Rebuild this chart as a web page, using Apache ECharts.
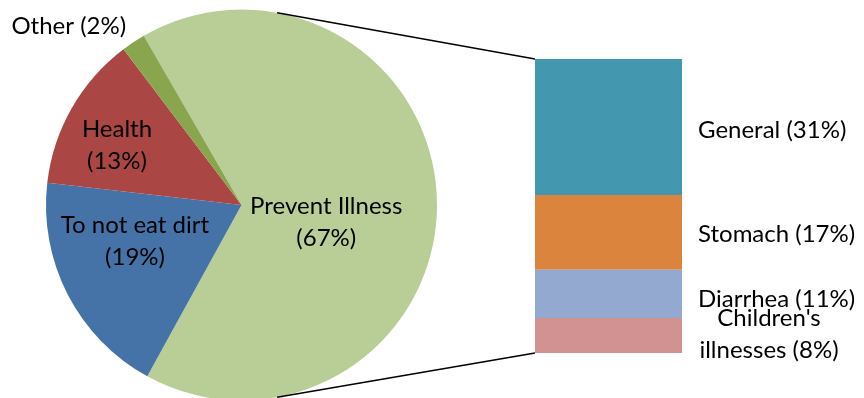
<!DOCTYPE html>
<html>
<head>
<meta charset="utf-8">
<script src="https://cdn.jsdelivr.net/npm/echarts@6/dist/echarts.min.js"></script>
<style>
  html, body { margin: 0; padding: 0; background: #ffffff; }
  #chart { width: 864px; height: 398px; }
</style>
</head>
<body>
<div id="chart"></div>
<script>
// Reasons given (pie) with the "Prevent Illness" share broken down in a stacked bar
const reasonNames = ['Prevent Illness', 'To not eat dirt', 'Health', 'Other'];
const reasonValues = [67, 19, 13, 2];
const illnessNames = ['General', 'Stomach', 'Diarrhea', "Children's illnesses"];
const illnessValues = [31, 17, 11, 8];

// styling / layout
const reasonColors = ['#B9CE96', '#4572A7', '#AA4643', '#89A54E'];
const illnessColors = ['#4398AF', '#DB843D', '#93A9CF', '#D19291'];
const FONT = 'Lato, "Open Sans", sans-serif';
const FONT_SIZE = 24;
const pieCenter = [241.5, 205];
const pieRadius = 195.5;
const barBox = { left: 535, top: 59, width: 147, height: 294 };
const pieLabelShift = [[-16, 18], [-17, -10], [-37, -10], [-117, -95]];
const barLabelShift = [3, 2, 6, -1];
const connectorAngle = 79.5; // degrees above/below horizontal where the connectors leave the pie

const illnessTotal = illnessValues.reduce((a, b) => a + b, 0);

const chart = echarts.init(document.getElementById('chart'), null, { renderer: 'canvas' });

const pieSeries = {
  type: 'pie',
  center: pieCenter,
  radius: pieRadius,
  startAngle: 120,
  clockwise: true,
  silent: true,
  animation: false,
  data: reasonNames.map((name, i) => ({
    name,
    value: reasonValues[i],
    itemStyle: { color: reasonColors[i] }
  })),
  label: {
    show: true,
    position: 'inside',
    color: '#000',
    fontFamily: FONT,
    fontSize: FONT_SIZE,
    lineHeight: 32,
    align: 'center',
    formatter: p => p.name === 'Other' ? `${p.name} (${p.value}%)` : `${p.name}\n(${p.value}%)`
  },
  labelLine: { show: false },
  labelLayout: params => ({ dx: pieLabelShift[params.dataIndex][0], dy: pieLabelShift[params.dataIndex][1] })
};

const barSeries = illnessNames.map((name, i) => {
  const multi = name.indexOf(' ') > 0 && name.length > 12;
  return {
    type: 'bar',
    name,
    stack: 'illness',
    xAxisIndex: 0,
    yAxisIndex: 0,
    barWidth: '100%',
    silent: true,
    animation: false,
    data: [illnessValues[i]],
    itemStyle: { color: illnessColors[i] },
    label: {
      show: true,
      position: 'right',
      distance: 16,
      offset: [0, barLabelShift[i]],
      color: '#000',
      fontFamily: FONT,
      fontSize: FONT_SIZE,
      lineHeight: 32,
      formatter: p => {
        const text = `${name} (${p.value}%)`;
        if (!multi) return text;
        const cut = text.indexOf(' ');
        return `{c|${text.slice(0, cut)}}\n{c|${text.slice(cut + 1)}}`;
      },
      rich: {
        c: { width: 142, align: 'center', fontFamily: FONT, fontSize: FONT_SIZE, lineHeight: 32, color: '#000' }
      }
    }
  };
});

// connector lines from the pie rim to the corners of the breakdown bar
const a = connectorAngle * Math.PI / 180;
const rimX = pieCenter[0] + pieRadius * Math.cos(a);
const rimTopY = pieCenter[1] - pieRadius * Math.sin(a);
const rimBottomY = pieCenter[1] + pieRadius * Math.sin(a);
const barTopY = barBox.top;
const barBottomY = barBox.top + barBox.height;

chart.setOption({
  backgroundColor: '#ffffff',
  animation: false,
  grid: { left: barBox.left, top: barBox.top, width: barBox.width, height: barBox.height, containLabel: false },
  xAxis: { type: 'category', data: ['Prevent Illness'], show: false },
  yAxis: { type: 'value', min: 0, max: illnessTotal, inverse: true, show: false },
  series: [pieSeries].concat(barSeries),
  graphic: [
    { type: 'line', z: 100, silent: true, shape: { x1: rimX, y1: rimTopY, x2: barBox.left, y2: barTopY }, style: { stroke: '#000', lineWidth: 1.5 } },
    { type: 'line', z: 100, silent: true, shape: { x1: rimX, y1: rimBottomY, x2: barBox.left, y2: barBottomY }, style: { stroke: '#000', lineWidth: 1.5 } }
  ]
});
</script>
</body>
</html>
